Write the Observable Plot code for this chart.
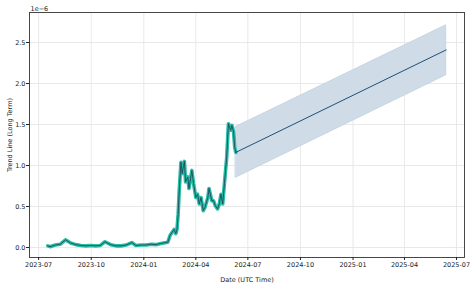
<!DOCTYPE html>
<html>
<head>
<meta charset="utf-8">
<script src="https://cdn.jsdelivr.net/npm/d3@7"></script>
<script src="https://cdn.jsdelivr.net/npm/@observablehq/plot@0.6"></script>
<style>
  html, body { margin: 0; padding: 0; background: white; }
</style>
</head>
<body>
<div id="chart"></div>
<script>
// Historical trend values (x 1e-6)
const histDates = [
  "2023-07-17","2023-07-21","2023-07-30","2023-08-08","2023-08-17","2023-08-26",
  "2023-09-04","2023-09-13","2023-09-22","2023-09-30","2023-10-09","2023-10-17",
  "2023-10-25","2023-11-04","2023-11-13","2023-11-22","2023-12-01","2023-12-11",
  "2023-12-18","2023-12-27","2024-01-05","2024-01-14","2024-01-22","2024-01-31",
  "2024-02-12","2024-02-16","2024-02-19","2024-02-23","2024-02-26","2024-02-28",
  "2024-03-01","2024-03-03","2024-03-06","2024-03-08","2024-03-12","2024-03-14",
  "2024-03-18","2024-03-20","2024-03-25","2024-03-28","2024-04-01","2024-04-04",
  "2024-04-07","2024-04-10","2024-04-14","2024-04-17","2024-04-22","2024-04-24",
  "2024-04-29","2024-05-02","2024-05-05","2024-05-09","2024-05-12","2024-05-15",
  "2024-05-18","2024-05-21","2024-05-25","2024-05-28","2024-06-01","2024-06-03",
  "2024-06-06","2024-06-08","2024-06-10"
];
const histValues = [
  0.02, 0.01, 0.03, 0.04, 0.094, 0.055,
  0.035, 0.025, 0.02, 0.025, 0.02, 0.025,
  0.07, 0.035, 0.02, 0.02, 0.03, 0.06,
  0.025, 0.03, 0.03, 0.04, 0.035, 0.05,
  0.065, 0.15, 0.18, 0.22, 0.17, 0.22,
  0.4, 0.7, 1.04, 0.9, 1.05, 0.8,
  0.86, 0.72, 0.94, 0.78, 0.61, 0.65,
  0.53, 0.61, 0.45, 0.49, 0.61, 0.72,
  0.57, 0.57, 0.51, 0.47, 0.53, 0.65,
  0.53, 0.78, 1.1, 1.51, 1.43, 1.49,
  1.41, 1.22, 1.16
];

// Forecast (start and end of the straight trend, band edges)
const fcDates = ["2024-06-10", "2025-06-13"];
const fcMean  = [1.16, 2.41];
const fcUpper = [1.47, 2.71];
const fcLower = [0.85, 2.10];

const xTickLabels = ["2023-07","2023-10","2024-01","2024-04","2024-07","2024-10","2025-01","2025-04","2025-07"];
const yTicks = [0.0, 0.5, 1.0, 1.5, 2.0, 2.5];

const parse = d3.utcParse("%Y-%m-%d");
const hist = histDates.map((d, i) => ({date: parse(d), value: histValues[i]}));
const fc = fcDates.map((d, i) => ({date: parse(d), mean: fcMean[i], upper: fcUpper[i], lower: fcLower[i]}));
const xTicks = xTickLabels.map(s => parse(s + "-01"));

const chart = Plot.plot({
  width: 474,
  height: 283,
  marginLeft: 29,
  marginRight: 10,
  marginTop: 12,
  marginBottom: 26,
  style: {fontFamily: "DejaVu Sans", fontSize: "6.5px", color: "#222", background: "white"},
  x: {type: "utc", domain: [parse("2023-06-15"), parse("2025-07-15")]},
  y: {domain: [-0.122, 2.866]},
  marks: [
    Plot.gridX(xTicks, {stroke: "#e3e3e3", strokeOpacity: 1, strokeWidth: 0.8}),
    Plot.gridY(yTicks, {stroke: "#e3e3e3", strokeOpacity: 1, strokeWidth: 0.8}),
    Plot.areaY(fc, {x: "date", y1: "lower", y2: "upper", fill: "#cfdce7", fillOpacity: 1, stroke: "#bfd1df", strokeWidth: 0.8}),
    Plot.line(hist, {x: "date", y: "value", stroke: "#26bfa5", strokeWidth: 3.6}),
    Plot.line(hist, {x: "date", y: "value", stroke: "#1d4a5e", strokeWidth: 0.9}),
    Plot.line(fc, {x: "date", y: "mean", stroke: "#1f4f78", strokeWidth: 1}),
    Plot.frame({stroke: "#333", strokeWidth: 0.9}),
    Plot.axisX(xTicks, {tickFormat: d3.utcFormat("%Y-%m"), tickSize: 3, tickPadding: 2,
      label: "Date (UTC Time)", labelAnchor: "center", labelArrow: "none", labelOffset: 24}),
    Plot.axisY(yTicks, {tickFormat: d3.format(".1f"), tickSize: 3, tickPadding: 1,
      label: "Trend Line (Long Term)", labelAnchor: "center", labelArrow: "none", labelOffset: 22}),
    Plot.text(["1e\u22126"], {frameAnchor: "top-left", dy: -6, dx: 1, textAnchor: "start"})
  ]
});
document.getElementById("chart").appendChild(chart);
</script>
</body>
</html>
